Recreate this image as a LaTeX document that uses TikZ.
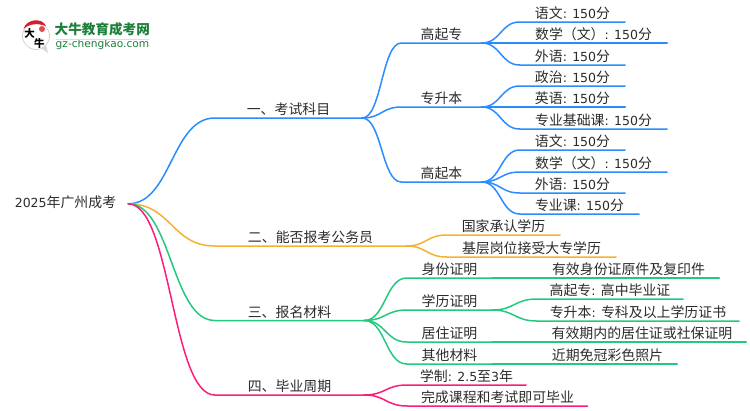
\documentclass[tikz,border=0pt]{standalone}
\usepackage{fontspec}
\setmainfont{Noto Sans CJK SC}
\newfontfamily\latinfont[Scale=0.9]{DejaVu Sans}
\newcommand\lat[1]{{\latinfont #1}}
\usetikzlibrary{calc}
\definecolor{inkText}{HTML}{2B2B2B}
\definecolor{branchBlue}{HTML}{2A8CFF}
\definecolor{branchOrange}{HTML}{F7B030}
\definecolor{branchGreen}{HTML}{22C97E}
\definecolor{branchPink}{HTML}{FA1E78}
\definecolor{logoGreen}{HTML}{1C7F3A}
\definecolor{logoRed}{HTML}{D0202A}
\tikzset{
    x=1pt,y=-1pt,
    item/.style={anchor=south, minimum width=#1, inner xsep=0pt, inner ysep=0.5pt,
        text height=10.5pt, text depth=2.5pt, font=\fontsize{13.9}{16}\selectfont, text=inkText},
    link/.style={to path={
        .. controls ($(\tikztostart)!.5!(\tikztotarget |- \tikztostart)$)
        and ($(\tikztotarget)!.5!(\tikztostart |- \tikztotarget)$) .. (\tikztotarget)}},
    blueline/.style={branchBlue, line width=1.5pt, line cap=round},
    orangeline/.style={branchOrange, line width=1.5pt, line cap=round},
    greenline/.style={branchGreen, line width=1.5pt, line cap=round},
    pinkline/.style={branchPink, line width=1.5pt, line cap=round},
    logotext/.style={inner sep=0pt, text=logoGreen}
}
\begin{document}
\begin{tikzpicture}
      \useasboundingbox (0,0) rectangle (750,410);

      % logo
      \fill[black!15] (41,48) -- (48,53) -- (46,44) -- cycle;
      \draw[black!18, line width=0.8pt, fill=white] (36,36) circle (13.5);
      \fill[logoRed] (23.5,29) .. controls (26,19) and (42,17) .. (46,26) .. controls (38,23) and (29,23.5) .. (23.5,29) -- cycle;
      \fill[logoRed!80] (42,29) circle (3);
      \node[inner sep=0pt, font=\fontsize{10.5}{11}\selectfont\bfseries] (logoDa) at (29.5,33) {大};
      \node[inner sep=0pt, font=\fontsize{10.5}{11}\selectfont\bfseries] (logoNiu) at (39.5,44) {牛};
      \node[logotext, anchor=west, font=\fontsize{13.6}{16}\selectfont\bfseries] (logoName) at (54.5,29.5) {大牛教育成考网};
      \node[logotext, anchor=west, font=\latinfont\fontsize{11.8}{12}\selectfont] (logoSite) at (55.5,44.5) {gz-chengkao.com};
      \draw[logoGreen!20, line width=0.8pt] (logoSite.north west) -- (logoSite.north east);

      \node[item=125] (root) at (65.5,211) {\lat{2025}年广州成考};

      % first level
      \node[item=147] (exam) at (288.5,118) {一、考试科目};
      \node[item=191] (civil) at (310.5,246) {二、能否报考公务员};
      \node[item=149] (docs) at (289.5,320.5) {三、报名材料};
      \node[item=149] (years) at (289.5,395) {四、毕业周期};

      % exam subjects
      \node[item=80] (gqz) at (441.5,43) {高起专};
      \node[item=80] (zsb) at (441.5,107) {专升本};
      \node[item=80] (gqb) at (441.5,182) {高起本};
      \node[item=105] (gqzA) at (572.5,22) {语文\lat{: 150}分};
      \node[item=147] (gqzB) at (593.5,43) {数学（文）\lat{: 150}分};
      \node[item=105] (gqzC) at (572.5,65) {外语\lat{: 150}分};
      \node[item=105] (zsbA) at (572.5,86) {政治\lat{: 150}分};
      \node[item=105] (zsbB) at (572.5,107) {英语\lat{: 150}分};
      \node[item=147] (zsbC) at (593.5,129) {专业基础课\lat{: 150}分};
      \node[item=105] (gqbA) at (572.5,150) {语文\lat{: 150}分};
      \node[item=147] (gqbB) at (593.5,172) {数学（文）\lat{: 150}分};
      \node[item=105] (gqbC) at (572.5,193) {外语\lat{: 150}分};
      \node[item=119] (gqbD) at (579.5,214) {专业课\lat{: 150}分};

      % civil service
      \node[item=113] (civilA) at (503.5,235) {国家承认学历};
      \node[item=169] (civilB) at (531.5,257) {基层岗位接受大专学历};

      % documents
      \node[item=85] (idDoc) at (449.5,278) {身份证明};
      \node[item=85] (eduDoc) at (449.5,310) {学历证明};
      \node[item=85] (liveDoc) at (449.5,342) {居住证明};
      \node[item=85] (otherDoc) at (449.5,364) {其他材料};
      \node[item=181] (idDocA) at (628.5,278) {有效身份证原件及复印件};
      \node[item=146] (eduDocA) at (610,299) {高起专\lat{: }高中毕业证};
      \node[item=202] (eduDocB) at (638,321) {专升本\lat{: }专科及以上学历证书};
      \node[item=208] (liveDocA) at (642,342) {有效期内的居住证或社保证明};
      \node[item=139] (otherDocA) at (607.5,364) {近期免冠彩色照片};

      % duration
      \node[item=119] (yearsA) at (466.5,385) {学制\lat{: 2.5}至\lat{3}年};
      \node[item=180] (yearsB) at (497.5,406) {完成课程和考试即可毕业};

      \draw[blueline] (root.east) to[link] (exam.south west) -- (exam.south east);
      \draw[orangeline] (root.east) to[link] (civil.south west) -- (civil.south east);
      \draw[greenline] (root.east) to[link] (docs.south west) -- (docs.south east);
      \draw[pinkline] (root.east) to[link] (years.south west) -- (years.south east);

      \draw[blueline] (exam.south east) to[link] (gqz.south west) -- (gqz.south east);
      \draw[blueline] (exam.south east) to[link] (zsb.south west) -- (zsb.south east);
      \draw[blueline] (exam.south east) to[link] (gqb.south west) -- (gqb.south east);
      \draw[blueline] (gqz.south east) to[link] (gqzA.south west) -- (gqzA.south east);
      \draw[blueline] (gqz.south east) to[link] (gqzB.south west) -- (gqzB.south east);
      \draw[blueline] (gqz.south east) to[link] (gqzC.south west) -- (gqzC.south east);
      \draw[blueline] (zsb.south east) to[link] (zsbA.south west) -- (zsbA.south east);
      \draw[blueline] (zsb.south east) to[link] (zsbB.south west) -- (zsbB.south east);
      \draw[blueline] (zsb.south east) to[link] (zsbC.south west) -- (zsbC.south east);
      \draw[blueline] (gqb.south east) to[link] (gqbA.south west) -- (gqbA.south east);
      \draw[blueline] (gqb.south east) to[link] (gqbB.south west) -- (gqbB.south east);
      \draw[blueline] (gqb.south east) to[link] (gqbC.south west) -- (gqbC.south east);
      \draw[blueline] (gqb.south east) to[link] (gqbD.south west) -- (gqbD.south east);

      \draw[orangeline] (civil.south east) to[link] (civilA.south west) -- (civilA.south east);
      \draw[orangeline] (civil.south east) to[link] (civilB.south west) -- (civilB.south east);

      \draw[greenline] (docs.south east) to[link] (idDoc.south west) -- (idDoc.south east);
      \draw[greenline] (docs.south east) to[link] (eduDoc.south west) -- (eduDoc.south east);
      \draw[greenline] (docs.south east) to[link] (liveDoc.south west) -- (liveDoc.south east);
      \draw[greenline] (docs.south east) to[link] (otherDoc.south west) -- (otherDoc.south east);
      \draw[greenline] (idDoc.south east) to[link] (idDocA.south west) -- (idDocA.south east);
      \draw[greenline] (eduDoc.south east) to[link] (eduDocA.south west) -- (eduDocA.south east);
      \draw[greenline] (eduDoc.south east) to[link] (eduDocB.south west) -- (eduDocB.south east);
      \draw[greenline] (liveDoc.south east) to[link] (liveDocA.south west) -- (liveDocA.south east);
      \draw[greenline] (otherDoc.south east) to[link] (otherDocA.south west) -- (otherDocA.south east);

      \draw[pinkline] (years.south east) to[link] (yearsA.south west) -- (yearsA.south east);
      \draw[pinkline] (years.south east) to[link] (yearsB.south west) -- (yearsB.south east);
\end{tikzpicture}
\end{document}
